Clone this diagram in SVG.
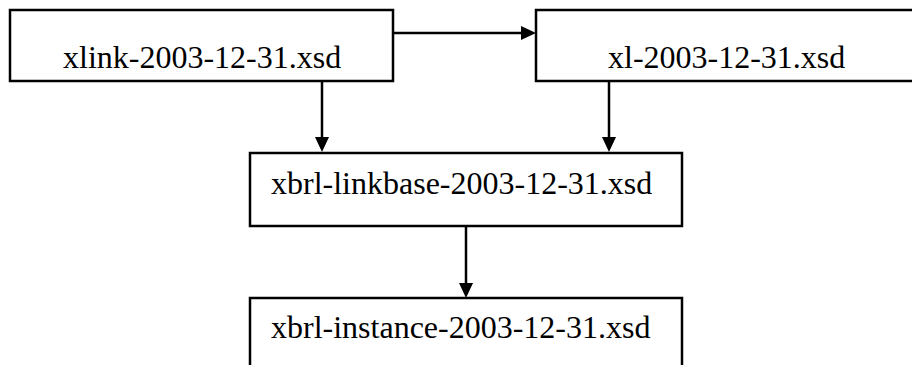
<svg xmlns="http://www.w3.org/2000/svg" width="912" height="365" viewBox="0 0 912 365">
<style>
.box{fill:#fff;stroke:#000;stroke-width:2.5}
.lbl{font-family:'Liberation Serif','Times New Roman',Tinos,'DejaVu Serif',serif;font-size:32px;fill:#000}
.ln{stroke:#000;stroke-width:2.5;fill:none}
.ah{fill:#000}
</style>
<rect width="912" height="365" fill="#fff"/>
<g id="connectors">
<line class="ln" x1="393" y1="33" x2="523" y2="33"/>
<polygon class="ah" points="521,26 536,33 521,40"/>
<line class="ln" x1="322" y1="81" x2="322" y2="139"/>
<polygon class="ah" points="315,137 329,137 322,152"/>
<line class="ln" x1="609" y1="81" x2="609" y2="139"/>
<polygon class="ah" points="602,137 616,137 609,152"/>
<line class="ln" x1="466" y1="226" x2="466" y2="285"/>
<polygon class="ah" points="459,283 473,283 466,298"/>
</g>
<g id="node-xlink">
<rect class="box" x="10" y="10" width="383" height="71"/>
<text class="lbl" x="63" y="68" font-family="Liberation Serif, serif">xlink-2003-12-31.xsd</text>
</g>
<g id="node-xl">
<rect class="box" x="536" y="10" width="400" height="71"/>
<text class="lbl" x="608" y="68" font-family="Liberation Serif, serif">xl-2003-12-31.xsd</text>
</g>
<g id="node-linkbase">
<rect class="box" x="250" y="153" width="432" height="73"/>
<text class="lbl" x="271" y="194" font-family="Liberation Serif, serif">xbrl-linkbase-2003-12-31.xsd</text>
</g>
<g id="node-instance">
<rect class="box" x="250" y="298" width="432" height="100"/>
<text class="lbl" x="271" y="338" font-family="Liberation Serif, serif">xbrl-instance-2003-12-31.xsd</text>
</g>
</svg>
